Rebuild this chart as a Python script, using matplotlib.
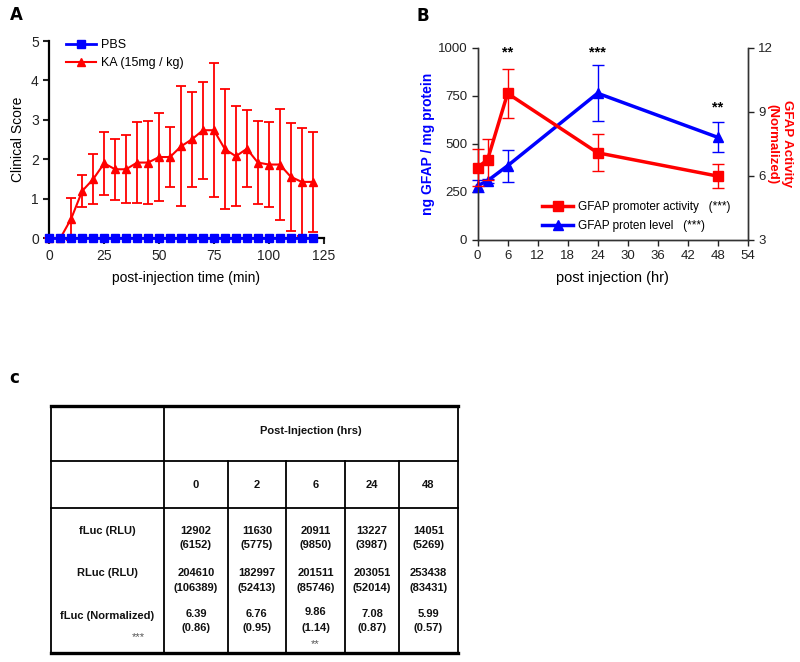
import numpy as np
import matplotlib.pyplot as plt
from matplotlib.lines import Line2D

plt.rcParams['font.family'] = ['Liberation Sans', 'DejaVu Sans']

# ---- panel A data: clinical score after injection
times_a = [0, 5, 10, 15, 20, 25, 30, 35, 40, 45, 50, 55, 60,
           65, 70, 75, 80, 85, 90, 95, 100, 105, 110, 115, 120]
ka_score = [0, 0, 0.5, 1.2, 1.5, 1.9, 1.75, 1.75, 1.92, 1.92, 2.06, 2.06, 2.33,
            2.51, 2.74, 2.74, 2.26, 2.08, 2.27, 1.92, 1.87, 1.87, 1.56, 1.43, 1.43]
ka_err = [0, 0, 0.53, 0.4, 0.63, 0.8, 0.77, 0.86, 1.02, 1.05, 1.12, 0.76, 1.52,
          1.2, 1.23, 1.7, 1.52, 1.27, 0.98, 1.05, 1.08, 1.4, 1.37, 1.37, 1.27]
pbs_score = [0] * len(times_a)

# ---- panel B data
hours = [0, 2, 6, 24, 48]
protein = [282, 308, 386, 763, 534]
protein_err = [30, 10, 83, 145, 77]
activity = [6.39, 6.76, 9.86, 7.08, 5.99]
activity_err = [0.86, 0.95, 1.14, 0.87, 0.57]

# ---- table c data
table_cols = ['0', '2', '6', '24', '48']
row_labels = ['fLuc (RLU)', 'RLuc (RLU)', 'fLuc (Normalized)']
fluc = [12902, 11630, 20911, 13227, 14051]
fluc_sd = [6152, 5775, 9850, 3987, 5269]
rluc = [204610, 182997, 201511, 203051, 253438]
rluc_sd = [106389, 52413, 85746, 52014, 83431]

RED = '#ff0000'
BLUE = '#0000ff'

fig = plt.figure(figsize=(8, 6.62), dpi=100)

# ================= A
ax = fig.add_axes([0.0616, 0.640, 0.343, 0.298])
ax.errorbar(times_a, ka_score, yerr=ka_err, color=RED, lw=1.5, marker='^',
            ms=6, capsize=3.5, elinewidth=1.3, capthick=1.3,
            clip_on=False, zorder=3)
ax.plot(times_a, pbs_score, color=BLUE, lw=2, marker='s', ms=5.5,
        clip_on=False, zorder=4)
ax.set_xlim(0, 125)
ax.set_ylim(0, 5)
ax.set_xticks([0, 25, 50, 75, 100, 125])
ax.set_yticks([0, 1, 2, 3, 4, 5])
for s in ['top', 'right']:
    ax.spines[s].set_visible(False)
for s in ['left', 'bottom']:
    ax.spines[s].set_linewidth(1.6)
ax.tick_params(direction='out', length=4, width=1.5, labelsize=10, colors='#222222')
ax.set_ylabel('Clinical Score', fontsize=10, labelpad=4)
ax.set_xlabel('post-injection time (min)', fontsize=10, labelpad=6)
leg_a = [Line2D([], [], color=BLUE, lw=2, marker='s', ms=5.5),
         Line2D([], [], color=RED, lw=1.5, marker='^', ms=6)]
ax.legend(leg_a, ['PBS', 'KA (15mg / kg)'], loc='upper left',
          bbox_to_anchor=(0.02, 1.065), frameon=False, fontsize=9,
          handlelength=2.4, labelspacing=0.45, handletextpad=0.4)
fig.text(0.012, 0.978, 'A', fontsize=12, fontweight='bold', family='DejaVu Sans',
         va='center')

# ================= B
axb = fig.add_axes([0.597, 0.6375, 0.3375, 0.2905])
axr = axb.twinx()
axb.errorbar(hours, protein, yerr=protein_err, color=BLUE, lw=2.5, marker='^',
             ms=7, capsize=4, elinewidth=1, capthick=1, clip_on=False, zorder=3)
axr.errorbar(hours, activity, yerr=activity_err, color=RED, lw=2.5, marker='s',
             ms=7, capsize=4, elinewidth=1, capthick=1, clip_on=False, zorder=3)
axb.set_xlim(0, 54)
axb.set_ylim(0, 1000)
axr.set_ylim(3, 12)
axb.set_xticks([0, 6, 12, 18, 24, 30, 36, 42, 48, 54])
axb.set_yticks([0, 250, 500, 750, 1000])
axr.set_yticks([3, 6, 9, 12])
axb.spines['top'].set_visible(False)
axr.spines['top'].set_visible(False)
for a in (axb, axr):
    for s in a.spines.values():
        s.set_color('#333333')
        s.set_linewidth(1)
    a.tick_params(direction='out', length=4, width=1, labelsize=9.5, colors='#222222')
axb.set_ylabel('ng GFAP / mg protein', fontsize=10, color=BLUE,
               fontweight='bold', labelpad=2)
# right axis label, first line on the outside
axr.text(1.12, 0.5, 'GFAP Activity\n(Normalized)', transform=axr.transAxes,
         fontsize=9.5, color=RED, fontweight='bold', rotation=270,
         ha='center', va='center', linespacing=1.3)
axb.set_xlabel('post injection (hr)', fontsize=10.5, labelpad=6)
for x, yv, txt in [(6, 975, '**'), (24, 975, '***'), (48, 690, '**')]:
    axb.text(x, yv, txt, ha='center', va='center', fontsize=10.5, fontweight='bold')
leg_b = [Line2D([], [], color=RED, lw=2.5, marker='s', ms=7),
         Line2D([], [], color=BLUE, lw=2.5, marker='^', ms=7)]
axr.legend(leg_b, ['GFAP promoter activity   (***)', 'GFAP proten level   (***)'],
           loc='lower left', bbox_to_anchor=(0.2, -0.015), frameon=False,
           fontsize=8.5, handlelength=2.6, labelspacing=0.6, handletextpad=0.4)
fig.text(0.52, 0.976, 'B', fontsize=12, fontweight='bold', family='DejaVu Sans',
         va='center')

# ================= c (table drawn in pixel coordinates)
axt = fig.add_axes([0, 0, 1, 1 - 365 / 662])
axt.set_xlim(0, 800)
axt.set_ylim(662, 365)
axt.axis('off')
fig.text(0.012, 1 - 378 / 662, 'c', fontsize=12, fontweight='bold',
         family='DejaVu Sans', va='center')

left, right = 50.7, 458
top, bottom = 406, 653
row_y = [460.7, 508.3]
col_x = [164.3, 227.7, 286, 345, 399]
axt.plot([left, right], [top, top], color='k', lw=2.4)
axt.plot([left, right], [bottom, bottom], color='k', lw=2.4)
for yv in row_y:
    axt.plot([left, right], [yv, yv], color='k', lw=1.3)
axt.plot([left, left], [top, bottom], color='k', lw=1.3)
axt.plot([right, right], [top, bottom], color='k', lw=1.3)
axt.plot([col_x[0], col_x[0]], [top, bottom], color='k', lw=1.3)
for xv in col_x[1:]:
    axt.plot([xv, xv], [row_y[0], bottom], color='k', lw=1.3)

edges = col_x + [right]
centers = [(edges[i] + edges[i + 1]) / 2 for i in range(5)]
tk = dict(ha='center', va='center', fontsize=8, fontweight='bold', color='#111111')
axt.text((col_x[0] + right) / 2, 431, 'Post-Injection (hrs)', **tk)
for cx, c in zip(centers, table_cols):
    axt.text(cx, 485, c, **tk)
lab_x = (left + col_x[0]) / 2
for yv, lab in zip([531.5, 573, 616], row_labels):
    axt.text(lab_x, yv, lab, **tk)
axt.text(138, 637, '***', ha='center', va='center', fontsize=8, color='#555555')
for i, cx in enumerate(centers):
    axt.text(cx, 531.5, str(fluc[i]), **tk)
    axt.text(cx, 545.5, '(%d)' % fluc_sd[i], **tk)
    axt.text(cx, 573.5, str(rluc[i]), **tk)
    axt.text(cx, 588, '(%d)' % rluc_sd[i], **tk)
    dy = -2 if table_cols[i] == '6' else 0
    axt.text(cx, 614 + dy, '%.2f' % activity[i], **tk)
    axt.text(cx, 628, '(%.2f)' % activity_err[i], **tk)
axt.text(centers[2], 644, '**', ha='center', va='center', fontsize=8, color='#555555')

fig.savefig('out.png', dpi=100)
